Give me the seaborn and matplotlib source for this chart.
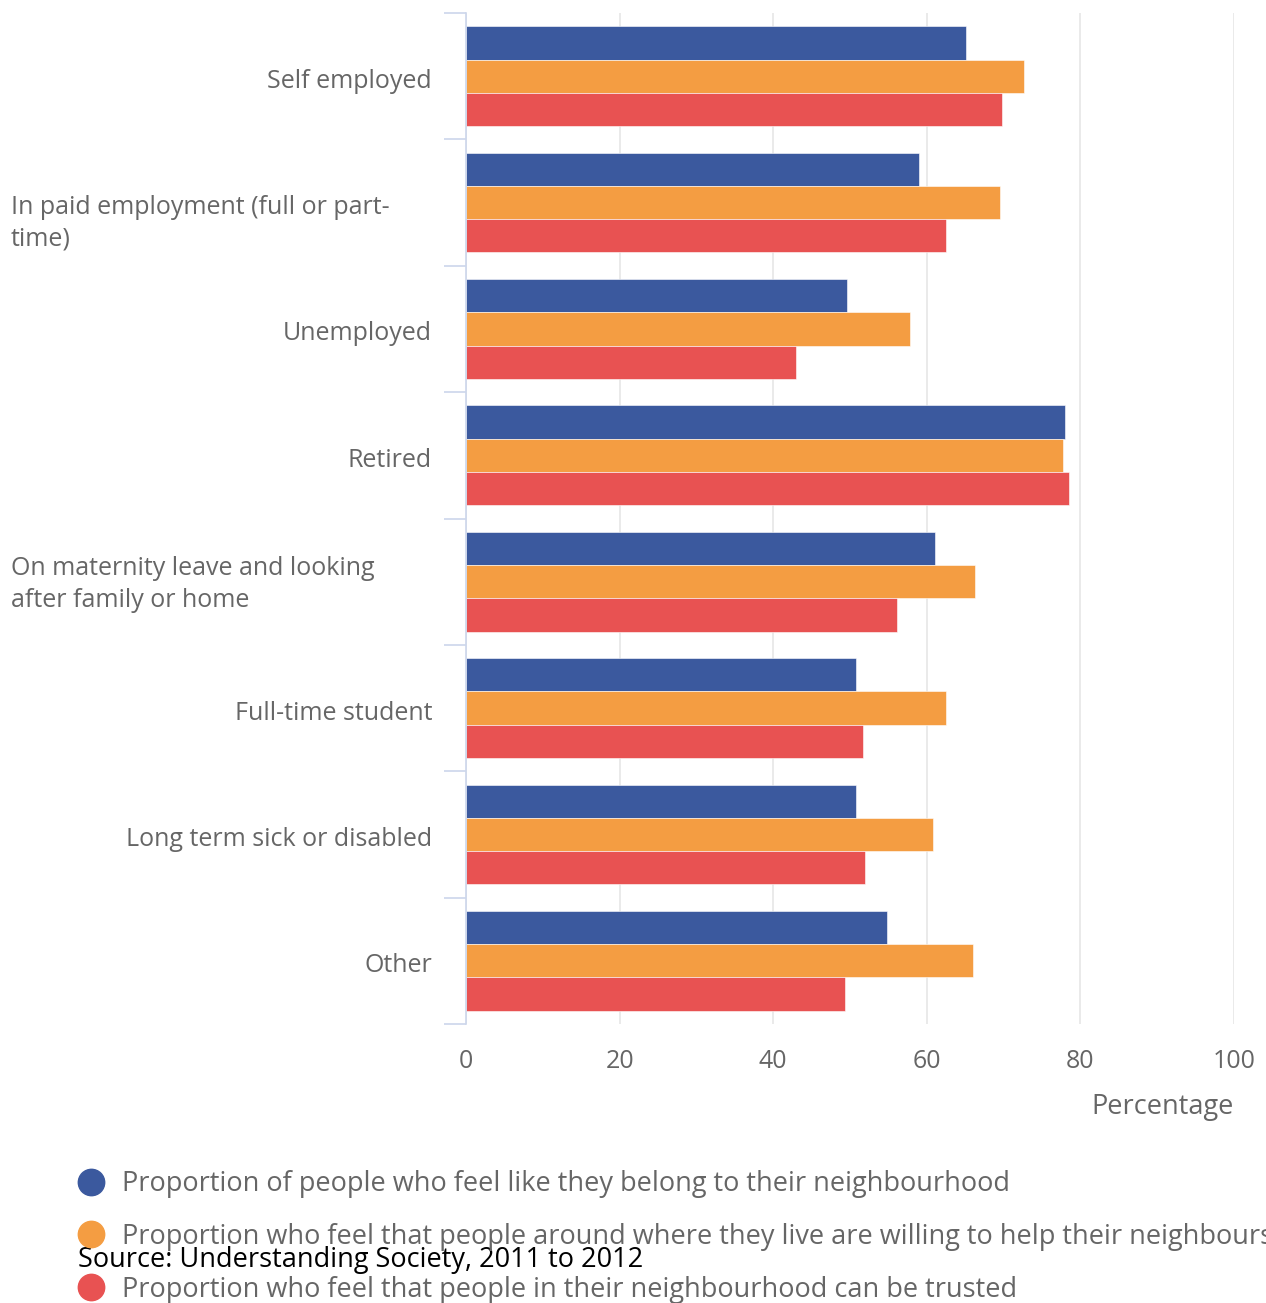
import numpy as np
import pandas as pd
import seaborn as sns
import matplotlib.pyplot as plt
import matplotlib.transforms as mtransforms
from matplotlib.lines import Line2D

# Data
categories = ['Self employed', 'In paid employment (full or part-\ntime)', 'Unemployed',
              'Retired', 'On maternity leave and looking\nafter family or home',
              'Full-time student', 'Long term sick or disabled', 'Other']
belong = [65.1, 59.0, 49.6, 78.0, 61.1, 50.8, 50.8, 54.8]
helpful = [72.7, 69.5, 57.8, 77.7, 66.3, 62.5, 60.8, 66.0]
trusted = [69.8, 62.5, 43.0, 78.5, 56.1, 51.7, 52.0, 49.3]
series = ['Proportion of people who feel like they belong to their neighbourhood',
          'Proportion who feel that people around where they live are willing to help their neighbours',
          'Proportion who feel that people in their neighbourhood can be trusted']
colors = ['#3b599e', '#f49d42', '#e85252']
x_ticks = [0, 20, 40, 60, 80, 100]

df = pd.DataFrame({
    'category': categories * 3,
    'value': belong + helpful + trusted,
    'series': [series[0]] * 8 + [series[1]] * 8 + [series[2]] * 8,
})

sns.set_theme(style='white')
plt.rcParams['font.family'] = ['Open Sans', 'DejaVu Sans']

fig = plt.figure(figsize=(12.66, 13.03), dpi=100)
ax = fig.add_axes([466 / 1266, 1 - 1024 / 1303, (1234 - 466) / 1266, (1024 - 13) / 1303])

for t in x_ticks:
    ax.axvline(t, color='#e6e6e6', lw=1.2, zorder=0)

sns.barplot(data=df, x='value', y='category', hue='series', order=categories,
            hue_order=series, palette=colors, saturation=1, orient='h', width=0.79,
            edgecolor='white', linewidth=0.4, ax=ax, legend=False, zorder=2)

ax.set_xlim(0, 100)
ax.set_ylim(len(categories) - 0.5, -0.5)
ax.set_xticks(x_ticks)
ax.set_xticklabels([str(t) for t in x_ticks], fontsize=18, color='#666666')
ax.tick_params(axis='x', length=0, pad=18)

# category labels: single lines right aligned, wrapped lines left aligned
ax.set_yticks(np.arange(len(categories)))
ax.set_yticklabels([])
ax.set_yticks(np.arange(len(categories) + 1) - 0.5, minor=True)
ax.tick_params(axis='y', which='major', length=0)
ax.tick_params(axis='y', which='minor', length=16, width=1.2, color='#ccd6eb', left=True)
trans = mtransforms.blended_transform_factory(fig.transFigure, ax.transData)
for i, cat in enumerate(categories):
    if '\n' in cat:
        shift = 21 if i == 1 else 3
        down = mtransforms.ScaledTranslation(0, -shift / 100, fig.dpi_scale_trans)
        ax.text(11 / 1266, i, cat, transform=trans + down, ha='left', va='center',
                fontsize=18, color='#666666', linespacing=1.35)
    else:
        down = mtransforms.ScaledTranslation(0, -5 / 100, fig.dpi_scale_trans)
        ax.text(432 / 1266, i, cat, transform=trans + down, ha='right', va='center',
                fontsize=18, color='#666666')

for side in ['top', 'right', 'bottom']:
    ax.spines[side].set_visible(False)
ax.spines['left'].set_color('#ccd6eb')
ax.spines['left'].set_linewidth(1.2)

ax.set_xlabel('Percentage', fontsize=19.5, color='#666666')
ax.xaxis.set_label_coords(1.0, -0.068)
ax.xaxis.label.set_horizontalalignment('right')
ax.set_ylabel('')

handles = [Line2D([], [], marker='o', linestyle='', markersize=19,
                  markerfacecolor=c, markeredgecolor=c) for c in colors]
fig.legend(handles, series, loc='upper left', bbox_to_anchor=(76 / 1266, 1 - 1170 / 1303),
           frameon=False, fontsize=19.5, labelcolor='#666666', handletextpad=0.6,
           labelspacing=0.92, borderpad=0, borderaxespad=0, handlelength=1.1)

fig.text(78 / 1266, 1 - 1260 / 1303, 'Source: Understanding Society, 2011 to 2012',
         fontsize=19.5, color='black', ha='left', va='center')

fig.savefig('out.png', dpi=100)
